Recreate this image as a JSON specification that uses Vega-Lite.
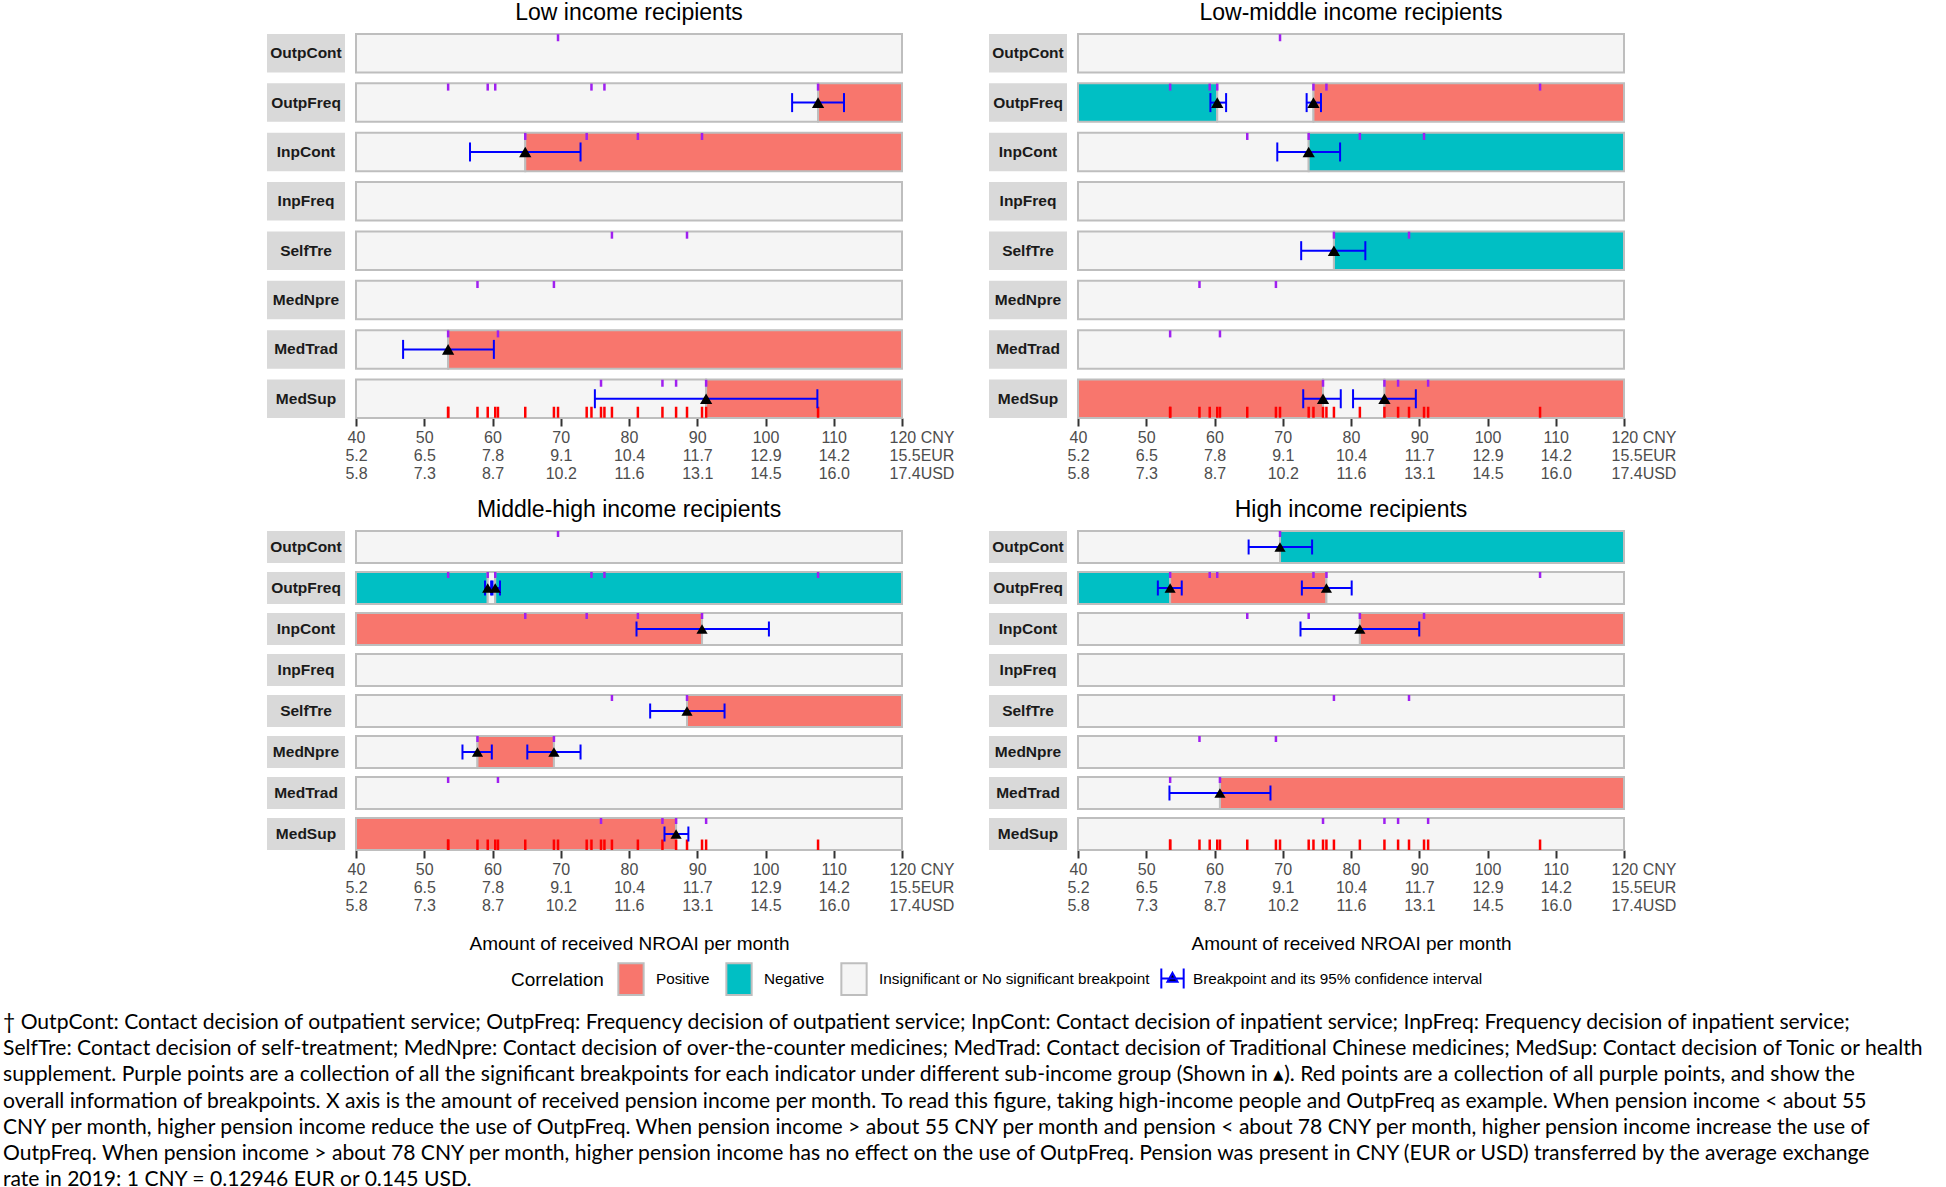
{
  "$schema": "https://vega.github.io/schema/vega-lite/v6.json",
  "background": "white",
  "padding": {"left": 3, "top": 2, "right": 0, "bottom": 0},
  "datasets": {
    "inds": [
      {"ind": "OutpCont"}, {"ind": "OutpFreq"}, {"ind": "InpCont"}, {"ind": "InpFreq"},
      {"ind": "SelfTre"}, {"ind": "MedNpre"}, {"ind": "MedTrad"}, {"ind": "MedSup"}
    ],
    "seg": [
      {"g": "Low", "ind": "OutpCont", "x0": 40, "x1": 120, "corr": "Insignificant"},
      {"g": "Low", "ind": "OutpFreq", "x0": 40, "x1": 107.7, "corr": "Insignificant"},
      {"g": "Low", "ind": "OutpFreq", "x0": 107.7, "x1": 120, "corr": "Positive"},
      {"g": "Low", "ind": "InpCont", "x0": 40, "x1": 64.8, "corr": "Insignificant"},
      {"g": "Low", "ind": "InpCont", "x0": 64.8, "x1": 120, "corr": "Positive"},
      {"g": "Low", "ind": "InpFreq", "x0": 40, "x1": 120, "corr": "Insignificant"},
      {"g": "Low", "ind": "SelfTre", "x0": 40, "x1": 120, "corr": "Insignificant"},
      {"g": "Low", "ind": "MedNpre", "x0": 40, "x1": 120, "corr": "Insignificant"},
      {"g": "Low", "ind": "MedTrad", "x0": 40, "x1": 53.5, "corr": "Insignificant"},
      {"g": "Low", "ind": "MedTrad", "x0": 53.5, "x1": 120, "corr": "Positive"},
      {"g": "Low", "ind": "MedSup", "x0": 40, "x1": 91.3, "corr": "Insignificant"},
      {"g": "Low", "ind": "MedSup", "x0": 91.3, "x1": 120, "corr": "Positive"},

      {"g": "LowMid", "ind": "OutpCont", "x0": 40, "x1": 120, "corr": "Insignificant"},
      {"g": "LowMid", "ind": "OutpFreq", "x0": 40, "x1": 60.4, "corr": "Negative"},
      {"g": "LowMid", "ind": "OutpFreq", "x0": 60.4, "x1": 74.5, "corr": "Insignificant"},
      {"g": "LowMid", "ind": "OutpFreq", "x0": 74.5, "x1": 120, "corr": "Positive"},
      {"g": "LowMid", "ind": "InpCont", "x0": 40, "x1": 73.8, "corr": "Insignificant"},
      {"g": "LowMid", "ind": "InpCont", "x0": 73.8, "x1": 120, "corr": "Negative"},
      {"g": "LowMid", "ind": "InpFreq", "x0": 40, "x1": 120, "corr": "Insignificant"},
      {"g": "LowMid", "ind": "SelfTre", "x0": 40, "x1": 77.5, "corr": "Insignificant"},
      {"g": "LowMid", "ind": "SelfTre", "x0": 77.5, "x1": 120, "corr": "Negative"},
      {"g": "LowMid", "ind": "MedNpre", "x0": 40, "x1": 120, "corr": "Insignificant"},
      {"g": "LowMid", "ind": "MedTrad", "x0": 40, "x1": 120, "corr": "Insignificant"},
      {"g": "LowMid", "ind": "MedSup", "x0": 40, "x1": 75.9, "corr": "Positive"},
      {"g": "LowMid", "ind": "MedSup", "x0": 75.9, "x1": 84.9, "corr": "Insignificant"},
      {"g": "LowMid", "ind": "MedSup", "x0": 84.9, "x1": 120, "corr": "Positive"},

      {"g": "MidHigh", "ind": "OutpCont", "x0": 40, "x1": 120, "corr": "Insignificant"},
      {"g": "MidHigh", "ind": "OutpFreq", "x0": 40, "x1": 59.3, "corr": "Negative"},
      {"g": "MidHigh", "ind": "OutpFreq", "x0": 59.3, "x1": 60.4, "corr": "Insignificant"},
      {"g": "MidHigh", "ind": "OutpFreq", "x0": 60.4, "x1": 120, "corr": "Negative"},
      {"g": "MidHigh", "ind": "InpCont", "x0": 40, "x1": 90.7, "corr": "Positive"},
      {"g": "MidHigh", "ind": "InpCont", "x0": 90.7, "x1": 120, "corr": "Insignificant"},
      {"g": "MidHigh", "ind": "InpFreq", "x0": 40, "x1": 120, "corr": "Insignificant"},
      {"g": "MidHigh", "ind": "SelfTre", "x0": 40, "x1": 88.5, "corr": "Insignificant"},
      {"g": "MidHigh", "ind": "SelfTre", "x0": 88.5, "x1": 120, "corr": "Positive"},
      {"g": "MidHigh", "ind": "MedNpre", "x0": 40, "x1": 57.8, "corr": "Insignificant"},
      {"g": "MidHigh", "ind": "MedNpre", "x0": 57.8, "x1": 69.0, "corr": "Positive"},
      {"g": "MidHigh", "ind": "MedNpre", "x0": 69.0, "x1": 120, "corr": "Insignificant"},
      {"g": "MidHigh", "ind": "MedTrad", "x0": 40, "x1": 120, "corr": "Insignificant"},
      {"g": "MidHigh", "ind": "MedSup", "x0": 40, "x1": 86.9, "corr": "Positive"},
      {"g": "MidHigh", "ind": "MedSup", "x0": 86.9, "x1": 120, "corr": "Insignificant"},

      {"g": "High", "ind": "OutpCont", "x0": 40, "x1": 69.6, "corr": "Insignificant"},
      {"g": "High", "ind": "OutpCont", "x0": 69.6, "x1": 120, "corr": "Negative"},
      {"g": "High", "ind": "OutpFreq", "x0": 40, "x1": 53.5, "corr": "Negative"},
      {"g": "High", "ind": "OutpFreq", "x0": 53.5, "x1": 76.4, "corr": "Positive"},
      {"g": "High", "ind": "OutpFreq", "x0": 76.4, "x1": 120, "corr": "Insignificant"},
      {"g": "High", "ind": "InpCont", "x0": 40, "x1": 81.3, "corr": "Insignificant"},
      {"g": "High", "ind": "InpCont", "x0": 81.3, "x1": 120, "corr": "Positive"},
      {"g": "High", "ind": "InpFreq", "x0": 40, "x1": 120, "corr": "Insignificant"},
      {"g": "High", "ind": "SelfTre", "x0": 40, "x1": 120, "corr": "Insignificant"},
      {"g": "High", "ind": "MedNpre", "x0": 40, "x1": 120, "corr": "Insignificant"},
      {"g": "High", "ind": "MedTrad", "x0": 40, "x1": 60.8, "corr": "Insignificant"},
      {"g": "High", "ind": "MedTrad", "x0": 60.8, "x1": 120, "corr": "Positive"},
      {"g": "High", "ind": "MedSup", "x0": 40, "x1": 120, "corr": "Insignificant"}
    ],
    "pp": [
      {"ind": "OutpCont", "v": 69.6},
      {"ind": "OutpFreq", "v": 53.5}, {"ind": "OutpFreq", "v": 59.3}, {"ind": "OutpFreq", "v": 60.4},
      {"ind": "OutpFreq", "v": 74.5}, {"ind": "OutpFreq", "v": 76.4}, {"ind": "OutpFreq", "v": 107.7},
      {"ind": "InpCont", "v": 64.8}, {"ind": "InpCont", "v": 73.8}, {"ind": "InpCont", "v": 81.3}, {"ind": "InpCont", "v": 90.7},
      {"ind": "SelfTre", "v": 77.5}, {"ind": "SelfTre", "v": 88.5},
      {"ind": "MedNpre", "v": 57.8}, {"ind": "MedNpre", "v": 69.0},
      {"ind": "MedTrad", "v": 53.5}, {"ind": "MedTrad", "v": 60.8},
      {"ind": "MedSup", "v": 75.9}, {"ind": "MedSup", "v": 84.9}, {"ind": "MedSup", "v": 86.9}, {"ind": "MedSup", "v": 91.3}
    ],
    "bp": [
      {"g": "Low", "ind": "OutpFreq", "bp": 107.7, "lo": 103.9, "hi": 111.5},
      {"g": "Low", "ind": "InpCont", "bp": 64.8, "lo": 56.7, "hi": 72.9},
      {"g": "Low", "ind": "MedTrad", "bp": 53.5, "lo": 46.9, "hi": 60.2},
      {"g": "Low", "ind": "MedSup", "bp": 91.3, "lo": 75.0, "hi": 107.6},
      {"g": "LowMid", "ind": "OutpFreq", "bp": 60.4, "lo": 59.4, "hi": 61.7},
      {"g": "LowMid", "ind": "OutpFreq", "bp": 74.5, "lo": 73.5, "hi": 75.6},
      {"g": "LowMid", "ind": "InpCont", "bp": 73.8, "lo": 69.2, "hi": 78.4},
      {"g": "LowMid", "ind": "SelfTre", "bp": 77.5, "lo": 72.7, "hi": 82.1},
      {"g": "LowMid", "ind": "MedSup", "bp": 75.9, "lo": 73.0, "hi": 78.5},
      {"g": "LowMid", "ind": "MedSup", "bp": 84.9, "lo": 80.3, "hi": 89.5},
      {"g": "MidHigh", "ind": "OutpFreq", "bp": 59.3, "lo": 58.9, "hi": 59.8},
      {"g": "MidHigh", "ind": "OutpFreq", "bp": 60.4, "lo": 60.0, "hi": 61.1},
      {"g": "MidHigh", "ind": "InpCont", "bp": 90.7, "lo": 81.1, "hi": 100.5},
      {"g": "MidHigh", "ind": "SelfTre", "bp": 88.5, "lo": 83.1, "hi": 94.0},
      {"g": "MidHigh", "ind": "MedNpre", "bp": 57.8, "lo": 55.6, "hi": 59.9},
      {"g": "MidHigh", "ind": "MedNpre", "bp": 69.0, "lo": 65.1, "hi": 72.9},
      {"g": "MidHigh", "ind": "MedSup", "bp": 86.9, "lo": 85.2, "hi": 88.7},
      {"g": "High", "ind": "OutpCont", "bp": 69.6, "lo": 65.0, "hi": 74.3},
      {"g": "High", "ind": "OutpFreq", "bp": 53.5, "lo": 51.7, "hi": 55.2},
      {"g": "High", "ind": "OutpFreq", "bp": 76.4, "lo": 72.8, "hi": 80.1},
      {"g": "High", "ind": "InpCont", "bp": 81.3, "lo": 72.6, "hi": 90.0},
      {"g": "High", "ind": "MedTrad", "bp": 60.8, "lo": 53.4, "hi": 68.2}
    ]
  },
  "title": {
    "text": [
      "† OutpCont: Contact decision of outpatient service; OutpFreq: Frequency decision of outpatient service; InpCont: Contact decision of inpatient service; InpFreq: Frequency decision of inpatient service;",
      "SelfTre: Contact decision of self-treatment; MedNpre: Contact decision of over-the-counter medicines; MedTrad: Contact decision of Traditional Chinese medicines; MedSup: Contact decision of Tonic or health",
      "supplement. Purple points are a collection of all the significant breakpoints for each indicator under different sub-income group (Shown in ▴). Red points are a collection of all purple points, and show the",
      "overall information of breakpoints. X axis is the amount of received pension income per month. To read this figure, taking high-income people and OutpFreq as example. When pension income < about 55",
      "CNY per month, higher pension income reduce the use of OutpFreq. When pension income > about 55 CNY per month and pension < about 78 CNY per month, higher pension income increase the use of",
      "OutpFreq. When pension income > about 78 CNY per month, higher pension income has no effect on the use of OutpFreq. Pension was present in CNY (EUR or USD) transferred by the average exchange",
      "rate in 2019: 1 CNY = 0.12946 EUR or 0.145 USD."
    ],
    "orient": "bottom",
    "anchor": "start",
    "font": "Lato",
    "fontSize": 21.1,
    "fontWeight": "normal",
    "color": "#000000",
    "lineHeight": 26.2,
    "offset": 13,
    "dx": -264
  },
  "spacing": 18,
  "vconcat": [
    {
      "hconcat": [
        {
          "hconcat": [
            {
              "width": 78, "height": 384,
              "data": {"name": "inds"},
              "layer": [
                {"mark": {"type": "rect", "fill": "#D9D9D9"},
                 "encoding": {
                   "x": {"datum": 0, "type": "quantitative", "scale": {"domain": [0, 1], "nice": false}, "axis": null},
                   "x2": {"datum": 1},
                   "y": {"field": "ind", "type": "nominal", "scale": {"domain": ["OutpCont", "OutpFreq", "InpCont", "InpFreq", "SelfTre", "MedNpre", "MedTrad", "MedSup"], "paddingInner": 0.22, "paddingOuter": 0}, "axis": null}}},
                {"mark": {"type": "text", "font": "Liberation Sans", "fontWeight": "bold", "fontSize": 15.5, "color": "#1A1A1A"},
                 "encoding": {"x": {"datum": 0.5, "type": "quantitative"}, "y": {"field": "ind", "type": "nominal"}, "text": {"field": "ind"}}}
              ]
            },
            {
              "width": 546, "height": 384,
              "title": {"text": "Low income recipients"},
              "layer": [
                {"data": {"name": "seg"}, "transform": [{"filter": "datum.g == 'Low'"}],
                 "mark": {"type": "rect", "stroke": "#BEBEBE", "strokeWidth": 2},
                 "encoding": {
                   "x": {"field": "x0", "type": "quantitative", "scale": {"domain": [40, 120], "nice": false, "zero": false},
                         "axis": {"values": [40, 50, 60, 70, 80, 90, 100, 110, 120], "labelExpr": "datum.value == 120 ? ['120 CNY', '15.5EUR', '17.4USD'] : [datum.label, ['5.2','6.5','7.8','9.1','10.4','11.7','12.9','14.2'][round((datum.value-40)/10)], ['5.8','7.3','8.7','10.2','11.6','13.1','14.5','16.0'][round((datum.value-40)/10)]]", "domain": false, "grid": false, "tickColor": "#333333", "tickWidth": 2, "tickSize": 8, "labelColor": "#4D4D4D", "labelFont": "Liberation Sans", "labelFontSize": 16, "labelLineHeight": 18, "labelPadding": 3, "labelFlush": false, "labelOverlap": false, "labelBaseline": "top", "labelAlign": {"condition": {"test": "datum.value == 120", "value": "left"}, "value": "center"}, "labelOffset": {"condition": {"test": "datum.value == 120", "value": -13}, "value": 0}, "title": null}},
                   "x2": {"field": "x1"},
                   "y": {"field": "ind", "type": "nominal", "scale": {"domain": ["OutpCont", "OutpFreq", "InpCont", "InpFreq", "SelfTre", "MedNpre", "MedTrad", "MedSup"], "paddingInner": 0.22, "paddingOuter": 0}, "axis": null},
                   "fill": {"field": "corr", "type": "nominal", "scale": {"domain": ["Positive", "Negative", "Insignificant"], "range": ["#F8766D", "#00BFC4", "#F5F5F5"]},
                            "legend": {"title": "Correlation", "orient": "none", "legendX": 244, "legendY": 928, "labelExpr": "datum.label == 'Insignificant' ? 'Insignificant or No significant breakpoint' : datum.label", "symbolType": "M-0.8,-1H0.8V1H-0.8Z", "symbolSize": 1000, "symbolStrokeColor": "#BEBEBE", "symbolStrokeWidth": 2}}
                 }},
                {"data": {"name": "pp"}, "mark": {"type": "tick", "color": "#A020F0", "thickness": 2.5, "size": 7, "yOffset": -15.5, "opacity": 1},
                 "encoding": {"x": {"field": "v", "type": "quantitative"}, "y": {"field": "ind", "type": "nominal"}}},
                {"data": {"name": "pp"}, "mark": {"type": "tick", "color": "#FF0000", "thickness": 2.5, "size": 11, "yOffset": 13.5, "opacity": 1},
                 "encoding": {"x": {"field": "v", "type": "quantitative"}, "y": {"datum": "MedSup", "type": "nominal"}}},
                {"data": {"name": "bp"}, "transform": [{"filter": "datum.g == 'Low'"}], "mark": {"type": "rule", "strokeWidth": 2},
                 "encoding": {"x": {"field": "lo", "type": "quantitative"}, "x2": {"field": "hi"}, "y": {"field": "ind", "type": "nominal"},
                   "stroke": {"datum": "Breakpoint and its 95% confidence interval", "type": "nominal", "scale": {"range": ["#0000FF"]},
                              "legend": {"title": null, "orient": "none", "legendX": 893, "legendY": 932, "symbolType": "M-1,-0.9V0.9M1,-0.9V0.9M-1,0H1M0,-0.5L0.45,0.3H-0.45Z", "symbolSize": 500, "symbolFillColor": "#000000", "symbolStrokeWidth": 2}}}},
                {"data": {"name": "bp"}, "transform": [{"filter": "datum.g == 'Low'"}], "mark": {"type": "tick", "color": "#0000FF", "thickness": 2, "size": 19, "opacity": 1},
                 "encoding": {"x": {"field": "lo", "type": "quantitative"}, "y": {"field": "ind", "type": "nominal"}}},
                {"data": {"name": "bp"}, "transform": [{"filter": "datum.g == 'Low'"}], "mark": {"type": "tick", "color": "#0000FF", "thickness": 2, "size": 19, "opacity": 1},
                 "encoding": {"x": {"field": "hi", "type": "quantitative"}, "y": {"field": "ind", "type": "nominal"}}},
                {"data": {"name": "bp"}, "transform": [{"filter": "datum.g == 'Low'"}], "mark": {"type": "point", "shape": "triangle-up", "filled": true, "color": "#000000", "size": 150, "opacity": 1},
                 "encoding": {"x": {"field": "bp", "type": "quantitative"}, "y": {"field": "ind", "type": "nominal"}}}
              ]
            }
          ],
          "spacing": 11,
          "bounds": "flush"
        },
        {
          "hconcat": [
            {
              "width": 78, "height": 384,
              "data": {"name": "inds"},
              "layer": [
                {"mark": {"type": "rect", "fill": "#D9D9D9"},
                 "encoding": {
                   "x": {"datum": 0, "type": "quantitative", "scale": {"domain": [0, 1], "nice": false}, "axis": null},
                   "x2": {"datum": 1},
                   "y": {"field": "ind", "type": "nominal", "scale": {"domain": ["OutpCont", "OutpFreq", "InpCont", "InpFreq", "SelfTre", "MedNpre", "MedTrad", "MedSup"], "paddingInner": 0.22, "paddingOuter": 0}, "axis": null}}},
                {"mark": {"type": "text", "font": "Liberation Sans", "fontWeight": "bold", "fontSize": 15.5, "color": "#1A1A1A"},
                 "encoding": {"x": {"datum": 0.5, "type": "quantitative"}, "y": {"field": "ind", "type": "nominal"}, "text": {"field": "ind"}}}
              ]
            },
            {
              "width": 546, "height": 384,
              "title": {"text": "Low-middle income recipients"},
              "layer": [
                {"data": {"name": "seg"}, "transform": [{"filter": "datum.g == 'LowMid'"}],
                 "mark": {"type": "rect", "stroke": "#BEBEBE", "strokeWidth": 2},
                 "encoding": {
                   "x": {"field": "x0", "type": "quantitative", "scale": {"domain": [40, 120], "nice": false, "zero": false},
                         "axis": {"values": [40, 50, 60, 70, 80, 90, 100, 110, 120], "labelExpr": "datum.value == 120 ? ['120 CNY', '15.5EUR', '17.4USD'] : [datum.label, ['5.2','6.5','7.8','9.1','10.4','11.7','12.9','14.2'][round((datum.value-40)/10)], ['5.8','7.3','8.7','10.2','11.6','13.1','14.5','16.0'][round((datum.value-40)/10)]]", "domain": false, "grid": false, "tickColor": "#333333", "tickWidth": 2, "tickSize": 8, "labelColor": "#4D4D4D", "labelFont": "Liberation Sans", "labelFontSize": 16, "labelLineHeight": 18, "labelPadding": 3, "labelFlush": false, "labelOverlap": false, "labelBaseline": "top", "labelAlign": {"condition": {"test": "datum.value == 120", "value": "left"}, "value": "center"}, "labelOffset": {"condition": {"test": "datum.value == 120", "value": -13}, "value": 0}, "title": null}},
                   "x2": {"field": "x1"},
                   "y": {"field": "ind", "type": "nominal", "scale": {"domain": ["OutpCont", "OutpFreq", "InpCont", "InpFreq", "SelfTre", "MedNpre", "MedTrad", "MedSup"], "paddingInner": 0.22, "paddingOuter": 0}, "axis": null},
                   "fill": {"field": "corr", "type": "nominal", "scale": {"domain": ["Positive", "Negative", "Insignificant"], "range": ["#F8766D", "#00BFC4", "#F5F5F5"]},
                            "legend": {"title": "Correlation", "orient": "none", "legendX": 244, "legendY": 928, "labelExpr": "datum.label == 'Insignificant' ? 'Insignificant or No significant breakpoint' : datum.label", "symbolType": "M-0.8,-1H0.8V1H-0.8Z", "symbolSize": 1000, "symbolStrokeColor": "#BEBEBE", "symbolStrokeWidth": 2}}
                 }},
                {"data": {"name": "pp"}, "mark": {"type": "tick", "color": "#A020F0", "thickness": 2.5, "size": 7, "yOffset": -15.5, "opacity": 1},
                 "encoding": {"x": {"field": "v", "type": "quantitative"}, "y": {"field": "ind", "type": "nominal"}}},
                {"data": {"name": "pp"}, "mark": {"type": "tick", "color": "#FF0000", "thickness": 2.5, "size": 11, "yOffset": 13.5, "opacity": 1},
                 "encoding": {"x": {"field": "v", "type": "quantitative"}, "y": {"datum": "MedSup", "type": "nominal"}}},
                {"data": {"name": "bp"}, "transform": [{"filter": "datum.g == 'LowMid'"}], "mark": {"type": "rule", "strokeWidth": 2},
                 "encoding": {"x": {"field": "lo", "type": "quantitative"}, "x2": {"field": "hi"}, "y": {"field": "ind", "type": "nominal"},
                   "stroke": {"datum": "Breakpoint and its 95% confidence interval", "type": "nominal", "scale": {"range": ["#0000FF"]},
                              "legend": {"title": null, "orient": "none", "legendX": 893, "legendY": 932, "symbolType": "M-1,-0.9V0.9M1,-0.9V0.9M-1,0H1M0,-0.5L0.45,0.3H-0.45Z", "symbolSize": 500, "symbolFillColor": "#000000", "symbolStrokeWidth": 2}}}},
                {"data": {"name": "bp"}, "transform": [{"filter": "datum.g == 'LowMid'"}], "mark": {"type": "tick", "color": "#0000FF", "thickness": 2, "size": 19, "opacity": 1},
                 "encoding": {"x": {"field": "lo", "type": "quantitative"}, "y": {"field": "ind", "type": "nominal"}}},
                {"data": {"name": "bp"}, "transform": [{"filter": "datum.g == 'LowMid'"}], "mark": {"type": "tick", "color": "#0000FF", "thickness": 2, "size": 19, "opacity": 1},
                 "encoding": {"x": {"field": "hi", "type": "quantitative"}, "y": {"field": "ind", "type": "nominal"}}},
                {"data": {"name": "bp"}, "transform": [{"filter": "datum.g == 'LowMid'"}], "mark": {"type": "point", "shape": "triangle-up", "filled": true, "color": "#000000", "size": 150, "opacity": 1},
                 "encoding": {"x": {"field": "bp", "type": "quantitative"}, "y": {"field": "ind", "type": "nominal"}}}
              ]
            }
          ],
          "spacing": 11,
          "bounds": "flush"
        }
      ],
      "spacing": 35
    },
    {
      "hconcat": [
        {
          "hconcat": [
            {
              "width": 78, "height": 319,
              "data": {"name": "inds"},
              "layer": [
                {"mark": {"type": "rect", "fill": "#D9D9D9"},
                 "encoding": {
                   "x": {"datum": 0, "type": "quantitative", "scale": {"domain": [0, 1], "nice": false}, "axis": null},
                   "x2": {"datum": 1},
                   "y": {"field": "ind", "type": "nominal", "scale": {"domain": ["OutpCont", "OutpFreq", "InpCont", "InpFreq", "SelfTre", "MedNpre", "MedTrad", "MedSup"], "paddingInner": 0.22, "paddingOuter": 0}, "axis": null}}},
                {"mark": {"type": "text", "font": "Liberation Sans", "fontWeight": "bold", "fontSize": 15.5, "color": "#1A1A1A"},
                 "encoding": {"x": {"datum": 0.5, "type": "quantitative"}, "y": {"field": "ind", "type": "nominal"}, "text": {"field": "ind"}}}
              ]
            },
            {
              "width": 546, "height": 319,
              "title": {"text": "Middle-high income recipients"},
              "layer": [
                {"data": {"name": "seg"}, "transform": [{"filter": "datum.g == 'MidHigh'"}],
                 "mark": {"type": "rect", "stroke": "#BEBEBE", "strokeWidth": 2},
                 "encoding": {
                   "x": {"field": "x0", "type": "quantitative", "scale": {"domain": [40, 120], "nice": false, "zero": false},
                         "axis": {"values": [40, 50, 60, 70, 80, 90, 100, 110, 120], "labelExpr": "datum.value == 120 ? ['120 CNY', '15.5EUR', '17.4USD'] : [datum.label, ['5.2','6.5','7.8','9.1','10.4','11.7','12.9','14.2'][round((datum.value-40)/10)], ['5.8','7.3','8.7','10.2','11.6','13.1','14.5','16.0'][round((datum.value-40)/10)]]", "domain": false, "grid": false, "tickColor": "#333333", "tickWidth": 2, "tickSize": 8, "labelColor": "#4D4D4D", "labelFont": "Liberation Sans", "labelFontSize": 16, "labelLineHeight": 18, "labelPadding": 3, "labelFlush": false, "labelOverlap": false, "labelBaseline": "top", "labelAlign": {"condition": {"test": "datum.value == 120", "value": "left"}, "value": "center"}, "labelOffset": {"condition": {"test": "datum.value == 120", "value": -13}, "value": 0}, "title": "Amount of received NROAI per month", "titleFont": "Liberation Sans", "titleFontSize": 19, "titleFontWeight": "normal", "titleColor": "#000000", "titlePadding": 21}},
                   "x2": {"field": "x1"},
                   "y": {"field": "ind", "type": "nominal", "scale": {"domain": ["OutpCont", "OutpFreq", "InpCont", "InpFreq", "SelfTre", "MedNpre", "MedTrad", "MedSup"], "paddingInner": 0.22, "paddingOuter": 0}, "axis": null},
                   "fill": {"field": "corr", "type": "nominal", "scale": {"domain": ["Positive", "Negative", "Insignificant"], "range": ["#F8766D", "#00BFC4", "#F5F5F5"]},
                            "legend": {"title": "Correlation", "orient": "none", "legendX": 244, "legendY": 928, "labelExpr": "datum.label == 'Insignificant' ? 'Insignificant or No significant breakpoint' : datum.label", "symbolType": "M-0.8,-1H0.8V1H-0.8Z", "symbolSize": 1000, "symbolStrokeColor": "#BEBEBE", "symbolStrokeWidth": 2}}
                 }},
                {"data": {"name": "pp"}, "mark": {"type": "tick", "color": "#A020F0", "thickness": 2.5, "size": 6, "yOffset": -13, "opacity": 1},
                 "encoding": {"x": {"field": "v", "type": "quantitative"}, "y": {"field": "ind", "type": "nominal"}}},
                {"data": {"name": "pp"}, "mark": {"type": "tick", "color": "#FF0000", "thickness": 2.5, "size": 10.5, "yOffset": 10.75, "opacity": 1},
                 "encoding": {"x": {"field": "v", "type": "quantitative"}, "y": {"datum": "MedSup", "type": "nominal"}}},
                {"data": {"name": "bp"}, "transform": [{"filter": "datum.g == 'MidHigh'"}], "mark": {"type": "rule", "strokeWidth": 2},
                 "encoding": {"x": {"field": "lo", "type": "quantitative"}, "x2": {"field": "hi"}, "y": {"field": "ind", "type": "nominal"},
                   "stroke": {"datum": "Breakpoint and its 95% confidence interval", "type": "nominal", "scale": {"range": ["#0000FF"]},
                              "legend": {"title": null, "orient": "none", "legendX": 893, "legendY": 932, "symbolType": "M-1,-0.9V0.9M1,-0.9V0.9M-1,0H1M0,-0.5L0.45,0.3H-0.45Z", "symbolSize": 500, "symbolFillColor": "#000000", "symbolStrokeWidth": 2}}}},
                {"data": {"name": "bp"}, "transform": [{"filter": "datum.g == 'MidHigh'"}], "mark": {"type": "tick", "color": "#0000FF", "thickness": 2, "size": 15, "opacity": 1},
                 "encoding": {"x": {"field": "lo", "type": "quantitative"}, "y": {"field": "ind", "type": "nominal"}}},
                {"data": {"name": "bp"}, "transform": [{"filter": "datum.g == 'MidHigh'"}], "mark": {"type": "tick", "color": "#0000FF", "thickness": 2, "size": 15, "opacity": 1},
                 "encoding": {"x": {"field": "hi", "type": "quantitative"}, "y": {"field": "ind", "type": "nominal"}}},
                {"data": {"name": "bp"}, "transform": [{"filter": "datum.g == 'MidHigh'"}], "mark": {"type": "point", "shape": "triangle-up", "filled": true, "color": "#000000", "size": 125, "opacity": 1},
                 "encoding": {"x": {"field": "bp", "type": "quantitative"}, "y": {"field": "ind", "type": "nominal"}}}
              ]
            }
          ],
          "spacing": 11,
          "bounds": "flush"
        },
        {
          "hconcat": [
            {
              "width": 78, "height": 319,
              "data": {"name": "inds"},
              "layer": [
                {"mark": {"type": "rect", "fill": "#D9D9D9"},
                 "encoding": {
                   "x": {"datum": 0, "type": "quantitative", "scale": {"domain": [0, 1], "nice": false}, "axis": null},
                   "x2": {"datum": 1},
                   "y": {"field": "ind", "type": "nominal", "scale": {"domain": ["OutpCont", "OutpFreq", "InpCont", "InpFreq", "SelfTre", "MedNpre", "MedTrad", "MedSup"], "paddingInner": 0.22, "paddingOuter": 0}, "axis": null}}},
                {"mark": {"type": "text", "font": "Liberation Sans", "fontWeight": "bold", "fontSize": 15.5, "color": "#1A1A1A"},
                 "encoding": {"x": {"datum": 0.5, "type": "quantitative"}, "y": {"field": "ind", "type": "nominal"}, "text": {"field": "ind"}}}
              ]
            },
            {
              "width": 546, "height": 319,
              "title": {"text": "High income recipients"},
              "layer": [
                {"data": {"name": "seg"}, "transform": [{"filter": "datum.g == 'High'"}],
                 "mark": {"type": "rect", "stroke": "#BEBEBE", "strokeWidth": 2},
                 "encoding": {
                   "x": {"field": "x0", "type": "quantitative", "scale": {"domain": [40, 120], "nice": false, "zero": false},
                         "axis": {"values": [40, 50, 60, 70, 80, 90, 100, 110, 120], "labelExpr": "datum.value == 120 ? ['120 CNY', '15.5EUR', '17.4USD'] : [datum.label, ['5.2','6.5','7.8','9.1','10.4','11.7','12.9','14.2'][round((datum.value-40)/10)], ['5.8','7.3','8.7','10.2','11.6','13.1','14.5','16.0'][round((datum.value-40)/10)]]", "domain": false, "grid": false, "tickColor": "#333333", "tickWidth": 2, "tickSize": 8, "labelColor": "#4D4D4D", "labelFont": "Liberation Sans", "labelFontSize": 16, "labelLineHeight": 18, "labelPadding": 3, "labelFlush": false, "labelOverlap": false, "labelBaseline": "top", "labelAlign": {"condition": {"test": "datum.value == 120", "value": "left"}, "value": "center"}, "labelOffset": {"condition": {"test": "datum.value == 120", "value": -13}, "value": 0}, "title": "Amount of received NROAI per month", "titleFont": "Liberation Sans", "titleFontSize": 19, "titleFontWeight": "normal", "titleColor": "#000000", "titlePadding": 21}},
                   "x2": {"field": "x1"},
                   "y": {"field": "ind", "type": "nominal", "scale": {"domain": ["OutpCont", "OutpFreq", "InpCont", "InpFreq", "SelfTre", "MedNpre", "MedTrad", "MedSup"], "paddingInner": 0.22, "paddingOuter": 0}, "axis": null},
                   "fill": {"field": "corr", "type": "nominal", "scale": {"domain": ["Positive", "Negative", "Insignificant"], "range": ["#F8766D", "#00BFC4", "#F5F5F5"]},
                            "legend": {"title": "Correlation", "orient": "none", "legendX": 244, "legendY": 928, "labelExpr": "datum.label == 'Insignificant' ? 'Insignificant or No significant breakpoint' : datum.label", "symbolType": "M-0.8,-1H0.8V1H-0.8Z", "symbolSize": 1000, "symbolStrokeColor": "#BEBEBE", "symbolStrokeWidth": 2}}
                 }},
                {"data": {"name": "pp"}, "mark": {"type": "tick", "color": "#A020F0", "thickness": 2.5, "size": 6, "yOffset": -13, "opacity": 1},
                 "encoding": {"x": {"field": "v", "type": "quantitative"}, "y": {"field": "ind", "type": "nominal"}}},
                {"data": {"name": "pp"}, "mark": {"type": "tick", "color": "#FF0000", "thickness": 2.5, "size": 10.5, "yOffset": 10.75, "opacity": 1},
                 "encoding": {"x": {"field": "v", "type": "quantitative"}, "y": {"datum": "MedSup", "type": "nominal"}}},
                {"data": {"name": "bp"}, "transform": [{"filter": "datum.g == 'High'"}], "mark": {"type": "rule", "strokeWidth": 2},
                 "encoding": {"x": {"field": "lo", "type": "quantitative"}, "x2": {"field": "hi"}, "y": {"field": "ind", "type": "nominal"},
                   "stroke": {"datum": "Breakpoint and its 95% confidence interval", "type": "nominal", "scale": {"range": ["#0000FF"]},
                              "legend": {"title": null, "orient": "none", "legendX": 893, "legendY": 932, "symbolType": "M-1,-0.9V0.9M1,-0.9V0.9M-1,0H1M0,-0.5L0.45,0.3H-0.45Z", "symbolSize": 500, "symbolFillColor": "#000000", "symbolStrokeWidth": 2}}}},
                {"data": {"name": "bp"}, "transform": [{"filter": "datum.g == 'High'"}], "mark": {"type": "tick", "color": "#0000FF", "thickness": 2, "size": 15, "opacity": 1},
                 "encoding": {"x": {"field": "lo", "type": "quantitative"}, "y": {"field": "ind", "type": "nominal"}}},
                {"data": {"name": "bp"}, "transform": [{"filter": "datum.g == 'High'"}], "mark": {"type": "tick", "color": "#0000FF", "thickness": 2, "size": 15, "opacity": 1},
                 "encoding": {"x": {"field": "hi", "type": "quantitative"}, "y": {"field": "ind", "type": "nominal"}}},
                {"data": {"name": "bp"}, "transform": [{"filter": "datum.g == 'High'"}], "mark": {"type": "point", "shape": "triangle-up", "filled": true, "color": "#000000", "size": 125, "opacity": 1},
                 "encoding": {"x": {"field": "bp", "type": "quantitative"}, "y": {"field": "ind", "type": "nominal"}}}
              ]
            }
          ],
          "spacing": 11,
          "bounds": "flush"
        }
      ],
      "spacing": 35
    }
  ],
  "config": {
    "view": {"stroke": null},
    "title": {"font": "Liberation Sans", "fontSize": 23, "fontWeight": "normal", "color": "#000000", "offset": 8},
    "legend": {
      "direction": "horizontal",
      "titleOrient": "left",
      "titleFont": "Liberation Sans",
      "titleFontSize": 19,
      "titleFontWeight": "normal",
      "titleColor": "#000000",
      "titlePadding": 10,
      "labelFont": "Liberation Sans",
      "labelFontSize": 15.3,
      "labelColor": "#000000",
      "labelLimit": 400,
      "labelOffset": 8,
      "columnPadding": 12
    }
  }
}
